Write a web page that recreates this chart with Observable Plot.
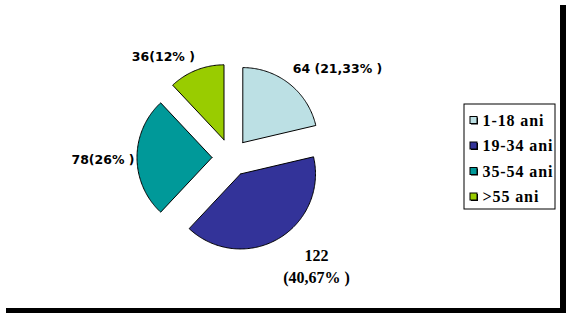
<!DOCTYPE html>
<html>
<head>
<meta charset="utf-8">
<script src="https://cdn.jsdelivr.net/npm/d3@7"></script>
<script src="https://cdn.jsdelivr.net/npm/@observablehq/plot@0.6"></script>
<style>
  html, body { margin: 0; padding: 0; background: #fff; }
  #wrap { position: relative; width: 571px; height: 318px; overflow: hidden; }
  #frame { position: absolute; left: 0; top: 0; width: 560px; height: 308px; background: #fff; box-shadow: 6px 5px 0 #000; }
  #chart { position: absolute; left: 0; top: 0; }
  #chart svg { background: transparent !important; }
  #chart svg > g:last-of-type text { letter-spacing: 0.9px; }
</style>
</head>
<body>
<div id="wrap"><div id="frame"></div><div id="chart"></div></div>
<script>
// ---- data ----
const categories = ["1-18 ani", "19-34 ani", "35-54 ani", ">55 ani"];
const counts = [64, 122, 78, 36];
const percents = ["21,33%", "40,67%", "26%", "12%"];
const sliceLabels = ["64 (21,33% )", "122\n(40,67% )", "78(26% )", "36(12% )"];
const colors = ["#bce0e4", "#333399", "#009999", "#99cc00"];

// ---- layout ----
const W = 571, H = 318;
const cx = 230.5, cy = 157, r = 75, explode = 19;
const labelR = 128;
const labelDx = [27, 21.5, 0, -20.5];
const labelDy = [12, -3, 2, 19];
const legX = 464, legY = 104, legW = 91, legH = 105, rowH = 25.5;

const arcs = d3.pie().sort(null).value(d => d)(counts);

const polys = [];
arcs.forEach((a, i) => {
  const mid = (a.startAngle + a.endAngle) / 2;
  const ox = cx + explode * Math.sin(mid), oy = cy - explode * Math.cos(mid);
  polys.push({k: categories[i], x: ox, y: oy});
  const n = Math.max(2, Math.ceil((a.endAngle - a.startAngle) / (Math.PI / 180)));
  for (let j = 0; j <= n; j++) {
    const t = a.startAngle + (a.endAngle - a.startAngle) * j / n;
    polys.push({k: categories[i], x: ox + r * Math.sin(t), y: oy - r * Math.cos(t)});
  }
  polys.push({k: categories[i], x: ox, y: oy});
});

const labels = arcs.map((a, i) => {
  const mid = (a.startAngle + a.endAngle) / 2;
  return {
    i, text: sliceLabels[i],
    x: cx + labelR * Math.sin(mid) + labelDx[i],
    y: cy - labelR * Math.cos(mid) + labelDy[i]
  };
});

const legendItems = categories.map((c, i) => ({
  k: c,
  x1: legX + 6, x2: legX + 13,
  y1: legY + 12.5 + i * rowH, y2: legY + 19.5 + i * rowH,
  tx: legX + 18, ty: legY + 16 + i * rowH
}));
const legendBox = [{x1: legX, x2: legX + legW, y1: legY, y2: legY + legH}];

const chart = Plot.plot({
  width: W, height: H,
  margin: 0,
  style: {background: "transparent"},
  x: {type: "linear", domain: [0, W], range: [0, W], axis: null},
  y: {type: "linear", domain: [0, H], range: [0, H], axis: null},
  color: {type: "ordinal", domain: categories, range: colors},
  marks: [
    Plot.line(polys, {x: "x", y: "y", z: "k", fill: "k", stroke: "#000", strokeWidth: 1, curve: "linear"}),
    Plot.text(labels.filter(d => d.i !== 1), {x: "x", y: "y", text: "text", fontFamily: "DejaVu Sans", fontWeight: "bold", fontSize: 12.5, fill: "#000", textAnchor: "middle"}),
    Plot.text(labels.filter(d => d.i === 1), {x: "x", y: "y", text: "text", fontFamily: "Liberation Serif", fontWeight: "bold", fontSize: 16, lineHeight: 1.35, fill: "#000", textAnchor: "middle"}),
    Plot.rect(legendBox, {x1: "x1", x2: "x2", y1: "y1", y2: "y2", fill: "#fff", stroke: "#000", strokeWidth: 1}),
    Plot.rect(legendItems, {x1: d => d.x1 + 1, x2: d => d.x2 + 1, y1: d => d.y1 + 1, y2: d => d.y2 + 1, fill: "#000"}),
    Plot.rect(legendItems, {x1: "x1", x2: "x2", y1: "y1", y2: "y2", fill: "k", stroke: "#000", strokeWidth: 1}),
    Plot.text(legendItems, {x: "tx", y: "ty", text: "k", textAnchor: "start", fontFamily: "Liberation Serif", fontWeight: "bold", fontSize: 16, fill: "#000"})
  ]
});
document.getElementById("chart").appendChild(chart);
</script>
</body>
</html>
